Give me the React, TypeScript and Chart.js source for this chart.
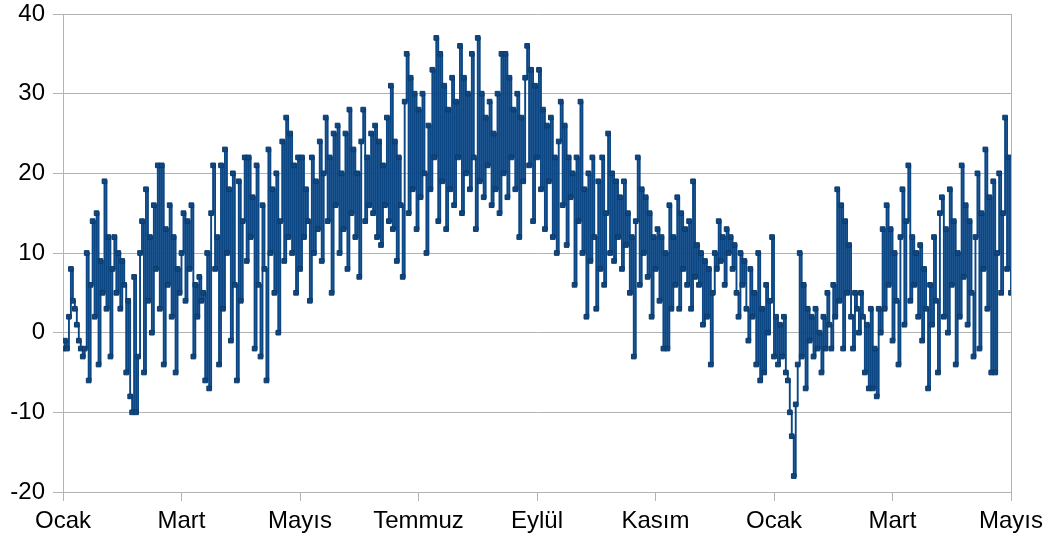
import { useEffect, useRef } from "react";
import { Chart, registerables } from "chart.js";

Chart.register(...registerables);

// Tick labels on the x axis (one every two months)
const monthLabels = ["Ocak", "Mart", "Mayıs", "Temmuz", "Eylül", "Kasım", "Ocak", "Mart", "Mayıs"];
const pointsPerTick = 60;

// Y axis range
const yMin = -20;
const yMax = 40;
const yStep = 10;

// Temperature readings (°C), one array per two-month span
const janFeb1 = [
  -2, -1, -2, 2, 8, 4, 3, 1, -1, -2,
  -3, -2, 10, -6, 6, 14, 2, 15, -4, 9,
  5, 19, 3, 12, -3, 8, 12, 5, 10, 3,
  9, 6, -5, 4, -8, -10, 7, -10, -3, 10,
  14, -5, 18, 4, 12, 0, 16, 8, 21, 3,
  21, -4, 13, 6, 16, 2, 12, -5, 8, 5,
];
const marApr1 = [
  10, 15, 4, 14, 8, 16, -3, 6, 2, 7,
  4, 5, -6, 10, -7, 15, 21, 8, 12, -4,
  21, 3, 23, 10, 18, -1, 20, 6, -6, 19,
  4, 14, 22, 9, 22, 12, 17, -2, 21, 6,
  -3, 16, 8, -6, 23, 10, 18, 5, 20, 0,
  14, 24, 9, 27, 12, 25, 10, 21, 5, 22,
];
const mayJun1 = [
  8, 22, 12, 18, 14, 4, 22, 10, 19, 13,
  24, 9, 20, 27, 14, 22, 5, 25, 16, 26,
  10, 20, 13, 25, 8, 28, 15, 23, 12, 20,
  7, 24, 28, 14, 22, 16, 25, 15, 26, 12,
  24, 11, 21, 16, 27, 14, 31, 13, 24, 9,
  22, 16, 7, 29, 35, 15, 32, 18, 30, 13,
];
const julAug1 = [
  28, 17, 30, 20, 10, 26, 18, 33, 22, 37,
  14, 35, 19, 31, 13, 28, 18, 32, 16, 29,
  22, 36, 15, 32, 20, 30, 18, 35, 22, 13,
  37, 19, 30, 17, 27, 21, 29, 16, 25, 18,
  30, 15, 35, 20, 35, 17, 32, 22, 28, 18,
  30, 12, 27, 19, 32, 36, 21, 33, 14, 31,
];
const sepOct1 = [
  22, 33, 18, 28, 13, 26, 19, 27, 12, 22,
  10, 24, 29, 16, 26, 11, 22, 17, 20, 6,
  22, 14, 29, 10, 18, 2, 20, 9, 22, 12,
  3, 19, 8, 22, 6, 15, 25, 10, 20, 9,
  19, 12, 17, 8, 19, 11, 15, 5, 12, -3,
  14, 22, 6, 18, 10, 17, 7, 15, 2, 12,
];
const novDec1 = [
  8, 13, 4, 12, -2, 10, -2, 16, 3, 12,
  6, 17, 3, 15, 8, 13, 6, 14, 3, 19,
  7, 11, 6, 10, 1, 9, 2, 8, -4, 5,
  10, 8, 14, 9, 12, 6, 13, 10, 12, 8,
  11, 5, 2, 10, 6, 9, 3, -1, 8, 2,
  5, -4, 10, -6, 3, -5, 6, 0, 4, 12,
];
const janFeb2 = [
  -3, 2, -4, 1, -3, 2, -5, -6, -10, -13,
  -18, -9, -4, 10, -3, 6, -7, 3, -1, 2,
  -3, 3, -2, 0, -5, 2, -2, 5, 1, -2,
  6, 2, 18, 4, 16, -2, 14, 5, 11, 2,
  -2, 5, 3, 0, 5, 2, -5, 1, -7, 3,
  -7, -2, -8, 3, 0, 13, 3, 16, 6, 13,
];
const marMay2 = [
  -1, 10, 4, -4, 12, 18, 1, 14, 21, 4,
  12, 6, 10, 2, 11, -1, 8, 3, -7, 6,
  1, 12, 4, -5, 15, 17, 2, 13, 0, 18,
  6, 14, -4, 10, 2, 21, 7, 16, 1, 14,
  5, -3, 12, 20, -2, 15, 8, 23, 3, 17,
  -5, 19, -5, 10, 20, 5, 15, 27, 8, 22,
  5,
];

const series = [
  ...janFeb1, ...marApr1, ...mayJun1, ...julAug1,
  ...sepOct1, ...novDec1, ...janFeb2, ...marMay2,
];

export default function App() {
  const ref = useRef<HTMLCanvasElement>(null);

  useEffect(() => {
    document.body.style.margin = "0";
    const canvas = ref.current;
    if (!canvas) return;
    const blue = "#0b4785";
    const dark = "#103a66";
    const gray = "#b3b3b3";
    const font = { family: "'Liberation Sans', Arial, sans-serif", size: 24 };
    const points = series.map((y, i) => ({ x: i / pointsPerTick, y }));

    const chart = new Chart(canvas, {
      type: "line",
      data: {
        datasets: [
          {
            data: points,
            borderColor: blue,
            backgroundColor: blue,
            borderWidth: 1.9,
            stepped: true,
            pointStyle: "rect",
            pointRadius: 3.3,
            pointBorderWidth: 1,
            pointBackgroundColor: blue,
            pointBorderColor: dark,
          },
        ],
      },
      options: {
        animation: false,
        responsive: false,
        maintainAspectRatio: false,
        layout: { padding: { top: 14, right: 42, left: 0, bottom: 0 } },
        plugins: { legend: { display: false }, tooltip: { enabled: false } },
        scales: {
          x: {
            type: "linear",
            min: 0,
            max: monthLabels.length - 1,
            ticks: {
              stepSize: 1,
              autoSkip: false,
              maxRotation: 0,
              font,
              color: "#000",
              padding: 6,
              callback: (v: any) => monthLabels[Number(v)] ?? "",
            },
            grid: {
              color: (c: any) => (c.index === monthLabels.length - 1 ? gray : "rgba(0,0,0,0)"),
              tickColor: gray,
              tickLength: 9,
              lineWidth: 1,
            },
            border: { color: gray },
            afterFit: (s: any) => {
              s.height = 53;
            },
          },
          y: {
            min: yMin,
            max: yMax,
            ticks: { stepSize: yStep, font, color: "#000", padding: 8 },
            grid: { color: gray, tickLength: 10, lineWidth: 1 },
            border: { color: gray },
            afterFit: (s: any) => {
              s.width = 63;
              s.paddingTop = 0;
              s.paddingBottom = 0;
            },
          },
        },
      },
    });
    return () => chart.destroy();
  }, []);

  return (
    <div style={{ position: "absolute", left: 0, top: 0, width: 1053, height: 545, background: "#fff" }}>
      <canvas ref={ref} width={1053} height={545} style={{ display: "block" }} />
    </div>
  );
}
